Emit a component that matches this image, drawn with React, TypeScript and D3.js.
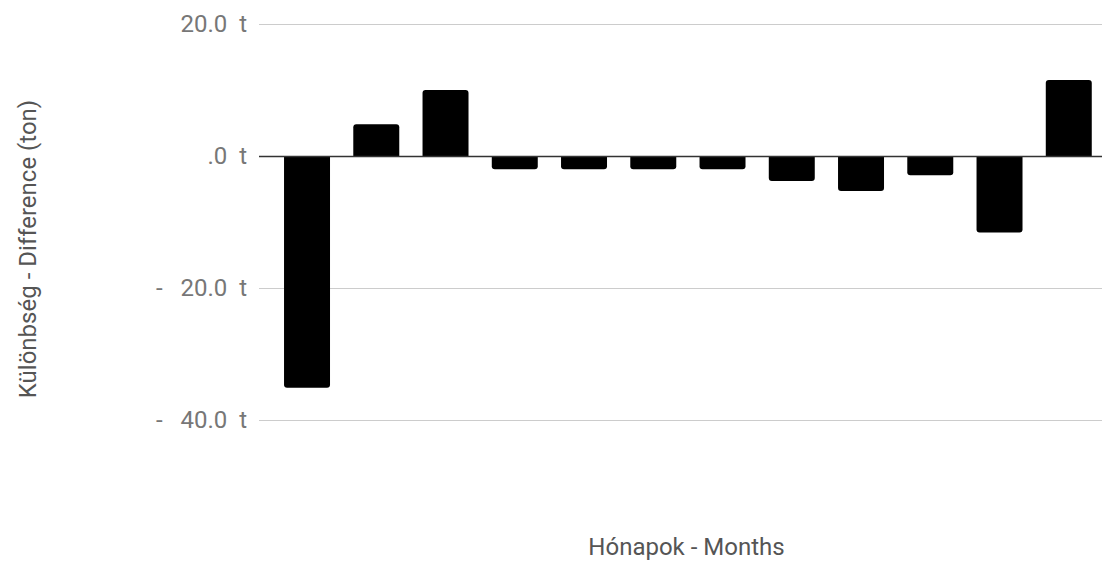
import React from "react";
import * as d3 from "d3";

const months = ["Jan", "Feb", "Mar", "Apr", "May", "Jun", "Jul", "Aug", "Sep", "Oct", "Nov", "Dec"];
const differences = [-35.1, 4.8, 10.0, -2.0, -2.0, -2.0, -2.0, -3.8, -5.3, -2.9, -11.6, 11.5];
const tickValues = [20, 0, -20, -40];
const tickLabels = ["20.0  t", ".0  t", "-   20.0  t", "-   40.0  t"];

const W = 1102;
const H = 561;

export default function App() {
  const x = d3.scaleBand<string>().domain(months).range([272.4, 1103.4]).paddingInner(0.336).paddingOuter(0.168);
  const y = d3.scaleLinear().domain([-40, 20]).range([420, 24]);
  const r = 3;
  const barPath = (v: number, x0: number, w: number) => {
    const y0 = y(0);
    const y1 = y(v);
    const rr = Math.min(r, Math.abs(y1 - y0) / 2, w / 2);
    const p = d3.path();
    if (v >= 0) {
      p.moveTo(x0, y0);
      p.lineTo(x0, y1 + rr);
      p.quadraticCurveTo(x0, y1, x0 + rr, y1);
      p.lineTo(x0 + w - rr, y1);
      p.quadraticCurveTo(x0 + w, y1, x0 + w, y1 + rr);
      p.lineTo(x0 + w, y0);
    } else {
      p.moveTo(x0, y0);
      p.lineTo(x0, y1 - rr);
      p.quadraticCurveTo(x0, y1, x0 + rr, y1);
      p.lineTo(x0 + w - rr, y1);
      p.quadraticCurveTo(x0 + w, y1, x0 + w, y1 - rr);
      p.lineTo(x0 + w, y0);
    }
    p.closePath();
    return p.toString();
  };
  return (
    <svg width={W} height={H} style={{ position: "absolute", left: 0, top: 0, background: "#fff" }}
      fontFamily="Roboto, 'Noto Sans', sans-serif">
      {tickValues.map((t, i) => (
        <g key={t}>
          {t !== 0 && <line x1={259} x2={W} y1={y(t) + 0.5} y2={y(t) + 0.5} stroke="#cccccc" strokeWidth={1} />}
          <text x={247} y={y(t)} dy="0.35em" textAnchor="end" fontSize={24} fill="#777777" style={{ whiteSpace: "pre" }}>
            {tickLabels[i]}
          </text>
        </g>
      ))}
      {months.map((m, i) => (
        <path key={m} d={barPath(differences[i], x(m)!, x.bandwidth())} fill="#000" />
      ))}
      <line x1={259} x2={W} y1={y(0) + 0.5} y2={y(0) + 0.5} stroke="#333333" strokeWidth={1.5} />
      <text x={686.5} y={555} textAnchor="middle" fontSize={24} fill="#555">Hónapok - Months</text>
      <text transform={`translate(36, 249) rotate(-90)`} textAnchor="middle" fontSize={24} fill="#555">
        Különbség - Difference (ton)
      </text>
    </svg>
  );
}
